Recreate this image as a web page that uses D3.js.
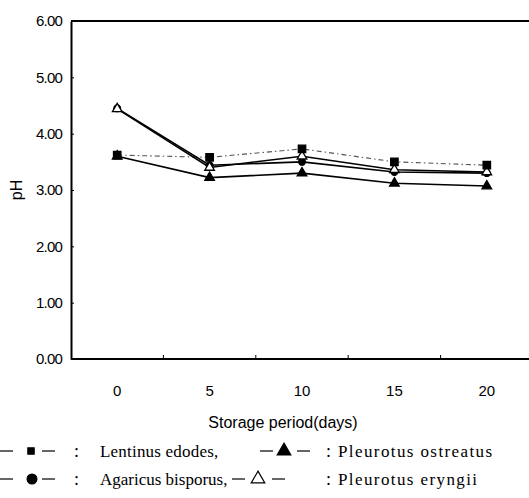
<!DOCTYPE html>
<html>
<head>
<meta charset="utf-8">
<script src="https://cdn.jsdelivr.net/npm/d3@7"></script>
<style>
  body { margin: 0; background: #fff; }
  svg { display: block; }
</style>
</head>
<body>
<script>
// storage days and pH readings
var days = ["0", "5", "10", "15", "20"];
var lentinus = [3.62, 3.58, 3.73, 3.50, 3.44];
var agaricus = [4.45, 3.44, 3.50, 3.32, 3.30];
var ostreatus = [3.60, 3.22, 3.30, 3.12, 3.07];
var eryngii = [4.44, 3.40, 3.60, 3.36, 3.32];
var yTicks = [0, 1, 2, 3, 4, 5, 6];

var width = 529,
    height = 498;

var svg = d3.select("body").append("svg")
    .attr("width", width)
    .attr("height", height);

var x = d3.scaleBand().domain(days).range([71, 533]);
var y = d3.scaleLinear().domain([0, 6]).range([359, 21]);

var series = [
    { name: "Lentinus edodes,", values: lentinus, sym: d3.symbolSquare, fill: "#000", dash: "5,3,1.5,3", stroke: "#555", sw: 1.1, size: 55, lsize: 40 },
    { name: "Agaricus bisporus,", values: agaricus, sym: d3.symbolCircle, fill: "#000", dash: null, stroke: "#000", sw: 1.6, size: 35, lsize: 75 },
    { name: "Pleurotus ostreatus", values: ostreatus, sym: d3.symbolTriangle, fill: "#000", dash: null, stroke: "#000", sw: 1.6, size: 40, lsize: 80 },
    { name: "Pleurotus eryngii", values: eryngii, sym: d3.symbolTriangle, fill: "#fff", dash: null, stroke: "#000", sw: 1.6, size: 40, lsize: 80 }
];

// frame: top border
svg.append("line")
    .attr("x1", 71).attr("x2", 529)
    .attr("y1", y(6)).attr("y2", y(6))
    .attr("stroke", "#000").attr("stroke-width", 2);

// y axis
var yAxis = svg.append("g")
    .attr("transform", "translate(71,0)")
    .call(d3.axisLeft(y).tickValues(yTicks).tickFormat(d3.format(".2f"))
        .tickSizeInner(-3).tickSizeOuter(0).tickPadding(9));
yAxis.select(".domain").attr("stroke-width", 2);
yAxis.selectAll("text")
    .attr("font-family", "Liberation Sans, Arial, sans-serif")
    .attr("font-size", 15)
    .attr("letter-spacing", -0.8)
    .attr("fill", "#000");

// x axis
var xAxis = svg.append("g")
    .attr("transform", "translate(0,359)")
    .call(d3.axisBottom(x).tickSize(0).tickPadding(26));
xAxis.select(".domain").attr("d", "M71,0H529").attr("stroke-width", 2);
xAxis.selectAll("text")
    .attr("font-family", "Liberation Sans, Arial, sans-serif")
    .attr("font-size", 15)
    .attr("fill", "#000");

// small ticks between categories
xAxis.selectAll(".sep")
    .data(days.slice(0, 4))
    .enter().append("line")
    .attr("x1", function(d) { return x(d) + x.bandwidth(); })
    .attr("x2", function(d) { return x(d) + x.bandwidth(); })
    .attr("y1", 0).attr("y2", -4)
    .attr("stroke", "#000");

svg.append("text")
    .attr("x", 283).attr("y", 428)
    .attr("text-anchor", "middle")
    .attr("font-family", "Liberation Sans, Arial, sans-serif")
    .attr("font-size", 16)
    .text("Storage period(days)");

svg.append("text")
    .attr("transform", "translate(22,190) rotate(-90)")
    .attr("text-anchor", "middle")
    .attr("font-family", "Liberation Sans, Arial, sans-serif")
    .attr("font-size", 16)
    .text("pH");

// lines
var line = d3.line()
    .x(function(d, i) { return x(days[i]) + x.bandwidth() / 2; })
    .y(function(d) { return y(d); });

series.forEach(function(s) {
    svg.append("path")
        .attr("d", line(s.values))
        .attr("fill", "none")
        .attr("stroke", s.stroke)
        .attr("stroke-width", s.sw)
        .attr("stroke-dasharray", s.dash);
});

// markers, drawn so the open triangle and the squares stay on top
[series[1], series[2], series[3], series[0]].forEach(function(s) {
    svg.selectAll(null)
        .data(s.values)
        .enter().append("path")
        .attr("transform", function(d, i) {
            return "translate(" + (x(days[i]) + x.bandwidth() / 2) + "," + y(d) + ")";
        })
        .attr("d", d3.symbol().type(s.sym).size(s.size))
        .attr("fill", s.fill)
        .attr("stroke", "#000")
        .attr("stroke-width", 1.3);
});

// legend: [start of first dash, marker centre, start of second dash, baseline]
var legendPos = [[0, 31, 42, 457], [0, 32, 42, 485], [260, 284, 297, 457], [232, 258, 272, 485]];
var colonX = [74, 74, 326, 326];
var labelX = [100, 100, 338, 338];
var labelSpacing = [0.2, 0, 1.4, 1.4];

series.forEach(function(s, i) {
    var p = legendPos[i];
    var my = p[3] - 6;
    svg.append("line").attr("x1", p[0]).attr("x2", p[0] + 13).attr("y1", my).attr("y2", my)
        .attr("stroke", "#000").attr("stroke-width", 1.2);
    svg.append("line").attr("x1", p[2]).attr("x2", p[2] + 13).attr("y1", my).attr("y2", my)
        .attr("stroke", "#000").attr("stroke-width", 1.2);
    svg.append("path")
        .attr("transform", "translate(" + p[1] + "," + my + ")")
        .attr("d", d3.symbol().type(s.sym).size(s.lsize))
        .attr("fill", s.fill)
        .attr("stroke", "#000")
        .attr("stroke-width", 1.2);
    svg.append("text")
        .attr("x", colonX[i]).attr("y", p[3])
        .attr("font-family", "Liberation Serif, serif")
        .attr("font-size", 18)
        .text(":");
    svg.append("text")
        .attr("x", labelX[i]).attr("y", p[3])
        .attr("font-family", "Liberation Serif, serif")
        .attr("font-size", 17)
        .attr("letter-spacing", labelSpacing[i])
        .text(s.name);
});
</script>
</body>
</html>
